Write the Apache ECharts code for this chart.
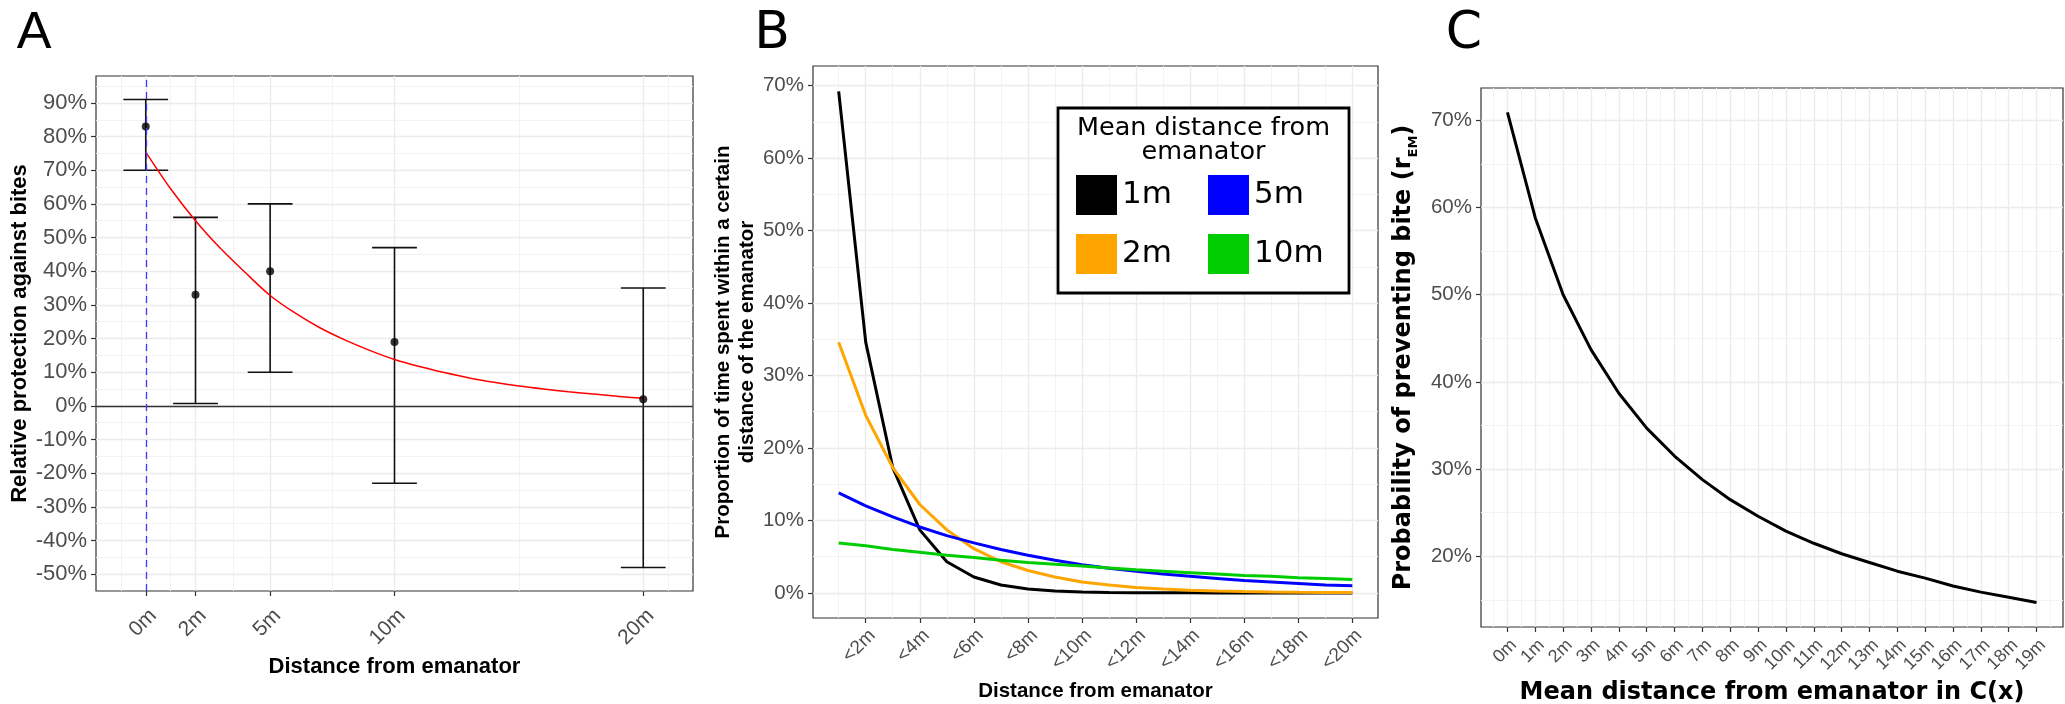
<!DOCTYPE html>
<html>
<head>
<meta charset="utf-8">
<title>Emanator protection by distance</title>
<script src="https://cdn.jsdelivr.net/npm/echarts@6.0.0/dist/echarts.min.js"></script>
<style>
  html, body { margin: 0; padding: 0; background: #fff; }
  #chart { width: 2065px; height: 704px; }
</style>
</head>
<body>
<div id="chart"></div>
<script>
// ---- panel A: relative protection against bites, by distance
const aDist = [0, 2, 5, 10, 20];
const aMean = [83, 33, 40, 19, 2];
const aLow = [70, 0.7, 10, -23, -48];
const aHigh = [91, 56, 60, 47, 35];
const aFitX = [0, 1, 2, 3, 4, 5, 6, 7, 8, 9, 10, 11, 12, 13, 14, 15, 16, 17, 18, 19, 20];
const aFitY = [75.4, 64.5, 55, 46.8, 39.6, 32.8, 27.6, 23.2, 19.6, 16.5, 13.8, 11.7, 9.9, 8.3, 7.0, 5.9, 5.0, 4.2, 3.5, 2.8, 2.3];
const aTicksX = [0, 2, 5, 10, 20];
const aMinorX = [-1, 1, 3.5, 7.5, 15, 21];
const aTicksY = [-50, -40, -30, -20, -10, 0, 10, 20, 30, 40, 50, 60, 70, 80, 90];
const aMinorY = [-45, -35, -25, -15, -5, 5, 15, 25, 35, 45, 55, 65, 75, 85, 95];

// ---- panel B: proportion of time spent within a distance
const bBins = [1, 2, 3, 4, 5, 6, 7, 8, 9, 10, 11, 12, 13, 14, 15, 16, 17, 18, 19, 20];
const b1m = [69.2, 34.6, 17.3, 8.7, 4.3, 2.2, 1.1, 0.55, 0.27, 0.14, 0.07, 0.03, 0.02, 0.01, 0, 0, 0, 0, 0, 0];
const b2m = [34.6, 24.5, 17.3, 12.2, 8.7, 6.1, 4.3, 3.1, 2.2, 1.5, 1.1, 0.76, 0.54, 0.38, 0.27, 0.19, 0.14, 0.1, 0.07, 0.05];
const b5m = [13.8, 12.0, 10.5, 9.1, 7.9, 6.9, 6.0, 5.2, 4.5, 3.9, 3.4, 3.0, 2.6, 2.3, 2.0, 1.7, 1.5, 1.3, 1.1, 1.0];
const b10m = [6.9, 6.5, 6.0, 5.6, 5.2, 4.9, 4.5, 4.2, 3.95, 3.7, 3.45, 3.2, 3.0, 2.8, 2.6, 2.4, 2.3, 2.1, 2.0, 1.85];
const bTicksX = [2, 4, 6, 8, 10, 12, 14, 16, 18, 20];
const bTickLabels = ['<2m', '<4m', '<6m', '<8m', '<10m', '<12m', '<14m', '<16m', '<18m', '<20m'];
const bMinorX = [1, 3, 5, 7, 9, 11, 13, 15, 17, 19];
const bTicksY = [0, 10, 20, 30, 40, 50, 60, 70];
const bMinorY = [5, 15, 25, 35, 45, 55, 65];

// ---- panel C: probability of preventing a bite vs mean distance
const cDist = [0, 1, 2, 3, 4, 5, 6, 7, 8, 9, 10, 11, 12, 13, 14, 15, 16, 17, 18, 19];
const cProb = [70.9, 58.8, 50.0, 43.7, 38.7, 34.7, 31.5, 28.8, 26.5, 24.6, 22.9, 21.5, 20.3, 19.3, 18.3, 17.5, 16.6, 15.9, 15.3, 14.7];
const cTicksX = [0, 1, 2, 3, 4, 5, 6, 7, 8, 9, 10, 11, 12, 13, 14, 15, 16, 17, 18, 19];
const cMinorX = [-0.5, 0.5, 1.5, 2.5, 3.5, 4.5, 5.5, 6.5, 7.5, 8.5, 9.5, 10.5, 11.5, 12.5, 13.5, 14.5, 15.5, 16.5, 17.5, 18.5, 19.5];
const cTicksY = [20, 30, 40, 50, 60, 70];
const cMinorY = [15, 25, 35, 45, 55, 65];

const tickGrey = '#4D4D4D';
const frame = '#333333';

function gridLines(majX, minX, majY, minY) {
    const major = { color: '#EBEBEB', width: 1.3, type: 'solid' };
    const minor = { color: '#F3F3F3', width: 1, type: 'solid' };
    return [].concat(
        minX.map(v => ({ xAxis: v, lineStyle: minor })),
        minY.map(v => ({ yAxis: v, lineStyle: minor })),
        majX.map(v => ({ xAxis: v, lineStyle: major })),
        majY.map(v => ({ yAxis: v, lineStyle: major }))
    );
}

function gridSeries(idx, lines) {
    return {
        type: 'line', xAxisIndex: idx, yAxisIndex: idx, data: [],
        silent: true,
        markLine: { silent: true, z: 1, symbol: 'none', label: { show: false }, animation: false, data: lines }
    };
}

function xAxisBase(idx, min, max, ticks, fmt, size, margin) {
    return {
        type: 'value', gridIndex: idx, min: min, max: max,
        axisLine: { show: false, onZero: false },
        splitLine: { show: false },
        axisTick: { show: true, customValues: ticks, length: 5, lineStyle: { color: frame, width: 1.2 } },
        axisLabel: {
            customValues: ticks, formatter: fmt, rotate: 45, align: 'right', verticalAlign: 'top',
            margin: margin, hideOverlap: false,
            fontFamily: 'Liberation Sans', fontSize: size, color: tickGrey
        }
    };
}

function yAxisBase(idx, min, max, ticks, size) {
    return {
        type: 'value', gridIndex: idx, min: min, max: max,
        axisLine: { show: false, onZero: false },
        splitLine: { show: false },
        axisTick: { show: true, customValues: ticks, length: 5, lineStyle: { color: frame, width: 1.2 } },
        axisLabel: {
            customValues: ticks, formatter: '{value}%', margin: 9, hideOverlap: false,
            fontFamily: 'Liberation Sans', fontSize: size, color: tickGrey
        }
    };
}

const chart = echarts.init(document.getElementById('chart'));

const xA = xAxisBase(0, -2, 22, aTicksX, '{value}m', 21, 14);
xA.name = 'Distance from emanator';
xA.nameLocation = 'middle';
xA.nameGap = 54;
xA.nameTextStyle = { fontFamily: 'Liberation Sans', fontWeight: 'bold', fontSize: 22, color: '#000' };

const yA = yAxisBase(0, -55, 98, aTicksY, 22);
yA.name = 'Relative protection against bites';
yA.nameLocation = 'middle';
yA.nameGap = 65;
yA.nameTextStyle = { fontFamily: 'Liberation Sans', fontWeight: 'bold', fontSize: 22, color: '#000' };

const xB = xAxisBase(1, 0.05, 20.95, bTicksX, v => bTickLabels[bTicksX.indexOf(v)], 19, 8);
xB.name = 'Distance from emanator';
xB.nameLocation = 'middle';
xB.nameGap = 62;
xB.nameTextStyle = { fontFamily: 'Liberation Sans', fontWeight: 'bold', fontSize: 20.5, color: '#000' };

const yB = yAxisBase(1, -3.46, 72.7, bTicksY, 20.5);
yB.name = 'Proportion of time spent within a certain\ndistance of the emanator';
yB.nameLocation = 'middle';
yB.nameGap = 51;
yB.nameTextStyle = { fontFamily: 'Liberation Sans', fontWeight: 'bold', fontSize: 20.5, lineHeight: 24, color: '#000', align: 'center' };

const xC = xAxisBase(2, -0.95, 19.95, cTicksX, '{value}m', 18, 9);
xC.name = 'Mean distance from emanator in C(x)';
xC.nameLocation = 'middle';
xC.nameGap = 53;
xC.nameTextStyle = { fontFamily: 'DejaVu Sans', fontWeight: 'bold', fontSize: 24, color: '#000' };

const yC = yAxisBase(2, 11.9, 73.7, cTicksY, 20.5);
yC.name = 'Probability of preventing bite (r{sub|EM})';
yC.nameLocation = 'middle';
yC.nameGap = 65;
yC.nameTextStyle = {
    fontFamily: 'DejaVu Sans', fontWeight: 'bold', fontSize: 24, color: '#000',
    rich: { sub: { fontFamily: 'DejaVu Sans', fontWeight: 'bold', fontSize: 13, color: '#000', verticalAlign: 'bottom', padding: [0, 0, -4, 0] } }
};

const boxGrid = { show: true, borderColor: frame, borderWidth: 1.2, backgroundColor: '#fff', outerBoundsMode: 'none' };

chart.setOption({
    animation: false,
    backgroundColor: '#fff',
    grid: [
        Object.assign({ left: 96, top: 76, width: 597, height: 515 }, boxGrid),
        Object.assign({ left: 813, top: 66, width: 565, height: 552 }, boxGrid),
        Object.assign({ left: 1481, top: 88, width: 582, height: 539 }, boxGrid)
    ],
    xAxis: [xA, xB, xC],
    yAxis: [yA, yB, yC],
    legend: {
        data: ['1m', '5m', '2m', '10m'],
        left: 1058, top: 108,
        width: 262,
        orient: 'horizontal',
        icon: 'rect',
        itemWidth: 41, itemHeight: 40, itemGap: 5,
        padding: [60, 14, 12, 18],
        borderColor: '#000', borderWidth: 2.8,
        backgroundColor: '#fff',
        selectedMode: false,
        textStyle: { fontFamily: 'DejaVu Sans', fontSize: 31, color: '#000', width: 81, lineHeight: 54 }
    },
    graphic: [
        { type: 'text', x: 34, y: 34, z: 10, style: { text: 'A', font: '52px "Liberation Sans"', fill: '#000', align: 'center', verticalAlign: 'middle' } },
        { type: 'text', x: 772, y: 34, z: 10, style: { text: 'B', font: '52px "DejaVu Sans"', fill: '#000', align: 'center', verticalAlign: 'middle' } },
        { type: 'text', x: 1464, y: 34, z: 10, style: { text: 'C', font: '52px "DejaVu Sans"', fill: '#000', align: 'center', verticalAlign: 'middle' } },
        { type: 'text', x: 1203.5, y: 140, z: 100, style: { text: 'Mean distance from\nemanator', font: '25.5px "DejaVu Sans"', lineHeight: 24, fill: '#000', align: 'center', verticalAlign: 'middle' } }
    ],
    series: [
        // panel A
        gridSeries(0, gridLines(aTicksX, aMinorX, aTicksY, aMinorY)),
        {
            type: 'line', xAxisIndex: 0, yAxisIndex: 0, data: [], silent: true,
            markLine: {
                silent: true, symbol: 'none', label: { show: false }, animation: false,
                data: [
                    { yAxis: 0, lineStyle: { color: frame, width: 1.4, type: 'solid' } },
                    { xAxis: 0, lineStyle: { color: '#3b3bff', width: 1.3, type: [7, 5] } }
                ]
            }
        },
        {
            type: 'custom', xAxisIndex: 0, yAxisIndex: 0, z: 3,
            data: aDist.map((d, i) => [d, aLow[i], aHigh[i]]),
            encode: { x: 0, y: [1, 2] },
            renderItem: function (params, api) {
                const x = api.value(0);
                const top = api.coord([x, api.value(2)]);
                const bot = api.coord([x, api.value(1)]);
                const l = api.coord([x - 0.9, 0])[0];
                const r = api.coord([x + 0.9, 0])[0];
                const st = { stroke: '#111', lineWidth: 1.6 };
                return {
                    type: 'group', children: [
                        { type: 'line', shape: { x1: top[0], y1: top[1], x2: bot[0], y2: bot[1] }, style: st },
                        { type: 'line', shape: { x1: l, y1: top[1], x2: r, y2: top[1] }, style: st },
                        { type: 'line', shape: { x1: l, y1: bot[1], x2: r, y2: bot[1] }, style: st }
                    ]
                };
            }
        },
        {
            type: 'scatter', xAxisIndex: 0, yAxisIndex: 0, z: 4,
            symbolSize: 8, itemStyle: { color: '#000' },
            data: aDist.map((d, i) => [d, aMean[i]])
        },
        {
            type: 'line', xAxisIndex: 0, yAxisIndex: 0, z: 4,
            smooth: 0.3, showSymbol: false,
            lineStyle: { color: '#ff0000', width: 1.5 },
            data: aFitX.map((d, i) => [d, aFitY[i]])
        },
        // panel B
        gridSeries(1, gridLines(bTicksX, bMinorX, bTicksY, bMinorY)),
        { name: '1m', type: 'line', xAxisIndex: 1, yAxisIndex: 1, showSymbol: false, color: '#000000', lineStyle: { width: 3 }, data: bBins.map((d, i) => [d, b1m[i]]) },
        { name: '2m', type: 'line', xAxisIndex: 1, yAxisIndex: 1, showSymbol: false, color: '#FFA500', lineStyle: { width: 3 }, data: bBins.map((d, i) => [d, b2m[i]]) },
        { name: '5m', type: 'line', xAxisIndex: 1, yAxisIndex: 1, showSymbol: false, color: '#0000FF', lineStyle: { width: 3 }, data: bBins.map((d, i) => [d, b5m[i]]) },
        { name: '10m', type: 'line', xAxisIndex: 1, yAxisIndex: 1, showSymbol: false, color: '#00CD00', lineStyle: { width: 3 }, data: bBins.map((d, i) => [d, b10m[i]]) },
        // panel C
        gridSeries(2, gridLines(cTicksX, cMinorX, cTicksY, cMinorY)),
        {
            type: 'line', xAxisIndex: 2, yAxisIndex: 2, showSymbol: false,
            lineStyle: { color: '#000', width: 3 },
            data: cDist.map((d, i) => [d, cProb[i]])
        }
    ]
});

window.addEventListener('resize', function () {
    chart.resize();
});
</script>
</body>
</html>
